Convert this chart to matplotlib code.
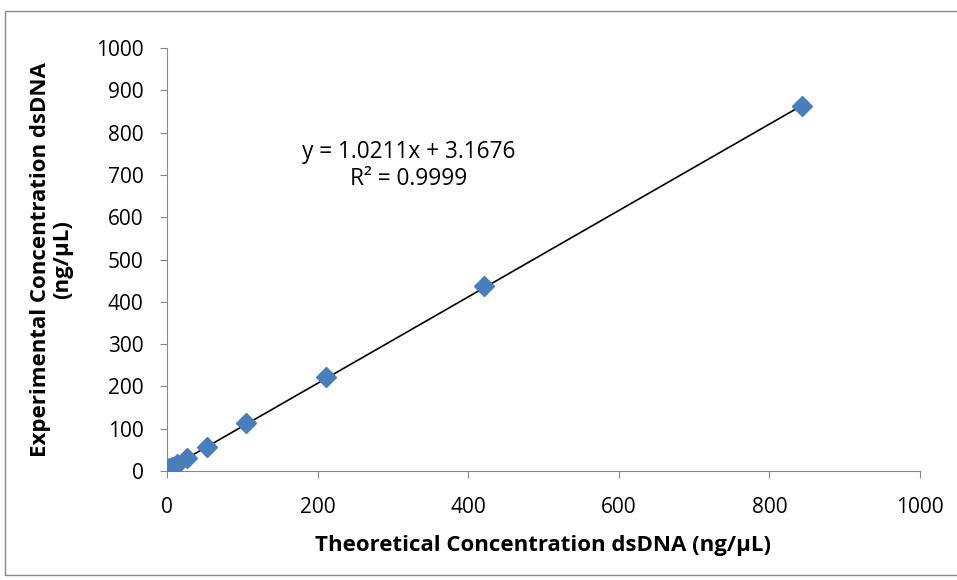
import numpy as np
import matplotlib
matplotlib.use('Agg')
import matplotlib.pyplot as plt
from matplotlib.patches import Rectangle

plt.rcParams['font.family'] = ['Open Sans', 'DejaVu Sans']

theoretical = [3.3, 6.6, 13.2, 26.3, 52.7, 105.4, 210.75, 421.5, 843]
experimental = [6, 10, 17, 30, 57, 113, 222, 437, 862]
slope = 1.0211
intercept = 3.1676
r2 = 0.9999

fig = plt.figure(figsize=(9.57, 5.8), dpi=100)
ax = fig.add_axes([0.1745, 0.1879, 0.9613 - 0.1745, 0.9172 - 0.1879])

# outer chart border
fig.patches.append(Rectangle((5 / 957, 5 / 580), 1.1, 564 / 580, transform=fig.transFigure,
                             fill=False, edgecolor='#888888', linewidth=1))

x = np.array(theoretical)
ax.plot([x.min(), x.max()], [slope * x.min() + intercept, slope * x.max() + intercept],
        color='black', linewidth=1.2, zorder=2)
ax.plot(theoretical, experimental, linestyle='none', marker='D', markersize=10,
        color='#4a7ebb', zorder=3)

ax.text(321, 754, f'y = {slope}x + {intercept}', ha='center', va='center', fontsize=16.3)
ax.text(321, 690, f'R² = {r2}', ha='center', va='center', fontsize=16.3)

ax.set_xlim(0, 1000)
ax.set_ylim(0, 1000)
ax.set_xticks(range(0, 1001, 200))
ax.set_yticks(range(0, 1001, 100))
for s in ['top', 'right']:
    ax.spines[s].set_visible(False)
for s in ['left', 'bottom']:
    ax.spines[s].set_color('#888888')
ax.tick_params(colors='#888888', labelcolor='black', labelsize=15, length=5)
ax.tick_params(axis='y', pad=12)
ax.tick_params(axis='x', pad=14)

ax.set_xlabel('Theoretical Concentration dsDNA (ng/µL)', fontsize=16, fontweight='bold', labelpad=12)
ax.set_ylabel('Experimental Concentration dsDNA\n(ng/µL)', fontsize=16, fontweight='bold', labelpad=16,
              linespacing=1.1)

fig.savefig('out.png', dpi=100)
